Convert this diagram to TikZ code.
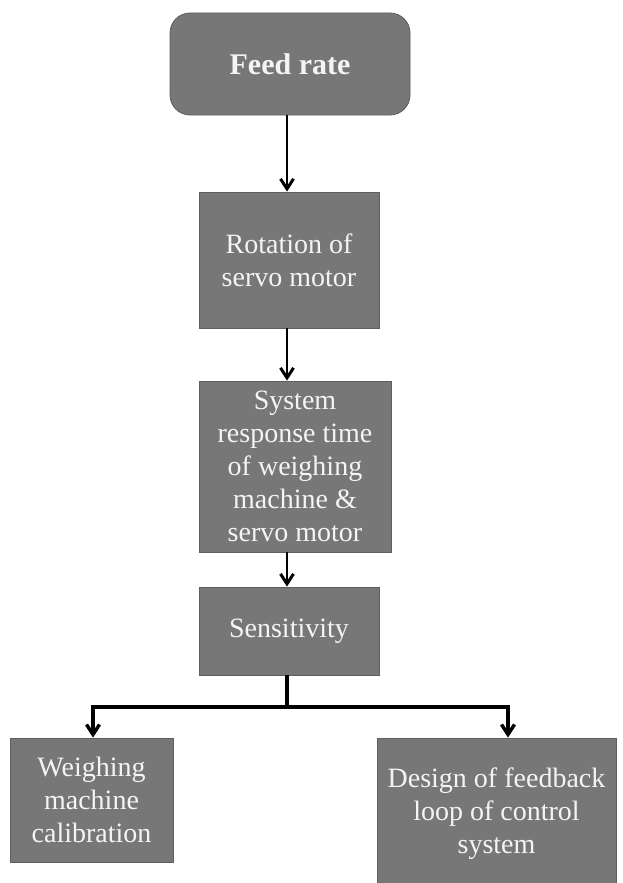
\documentclass[tikz,border=0pt]{standalone}
\usepackage{fontspec}
\setmainfont{Liberation Serif}
\usetikzlibrary{arrows.meta}
\definecolor{boxfill}{HTML}{777777}
\definecolor{boxline}{HTML}{5E5E5E}
\definecolor{boxtext}{HTML}{F4F4F4}
\begin{document}
\begin{tikzpicture}[x=1pt,y=1pt,
  box/.style={draw=boxline, line width=0.8pt, fill=boxfill, text=boxtext, align=center,
    inner sep=0pt, font=\fontsize{28}{33}\selectfont},
  arr/.style={-{Straight Barb[length=10pt,width=13pt,line width=3pt]}, line width=2.4pt, black},
  barr/.style={{Straight Barb[length=10pt,width=13pt,line width=3.4pt]}-{Straight Barb[length=10pt,width=13pt,line width=3.4pt]}, line width=3.6pt, black, line join=miter}]
\useasboundingbox (0,0) rectangle (622,-883);
\fill[white] (0,0) rectangle (622,-883);
\node[box, rounded corners=20pt, minimum width=240pt, minimum height=102pt,
  font=\fontsize{30}{36}\selectfont\bfseries] (feed) at (290,-64) {Feed rate};
\node[box, minimum width=180pt, minimum height=136pt] (rot) at (289,-260) {Rotation of\\servo motor};
\node[box, minimum width=192pt, minimum height=171pt] (sys) at (295,-466.5) {System\\response time\\of weighing\\machine \&\\servo motor};
\node[box, minimum width=180pt, minimum height=88pt] (sens) at (289,-631) {Sensitivity};
\node[box, minimum width=163pt, minimum height=124pt] (calib) at (91.5,-800) {Weighing\\machine\\calibration};
\node[box, minimum width=239pt, minimum height=152pt] (design) at (496.5,-814) {Design of feedback\\loop of control\\system};
\coordinate (ax) at (287,0);
\coordinate (jl) at (93,-707);
\coordinate (jr) at (508,-707);
\draw[arr] (feed.south -| ax) -- (rot.north -| ax);
\draw[arr] (rot.south -| ax) -- (sys.north -| ax);
\draw[arr] (sys.south -| ax) -- (sens.north -| ax);
\draw[line width=3.6pt] (sens.south -| ax) -- (ax |- jl);
\draw[barr] (calib.north -| jl) -- (jl) -- (jr) -- (design.north -| jr);
\end{tikzpicture}
\end{document}
